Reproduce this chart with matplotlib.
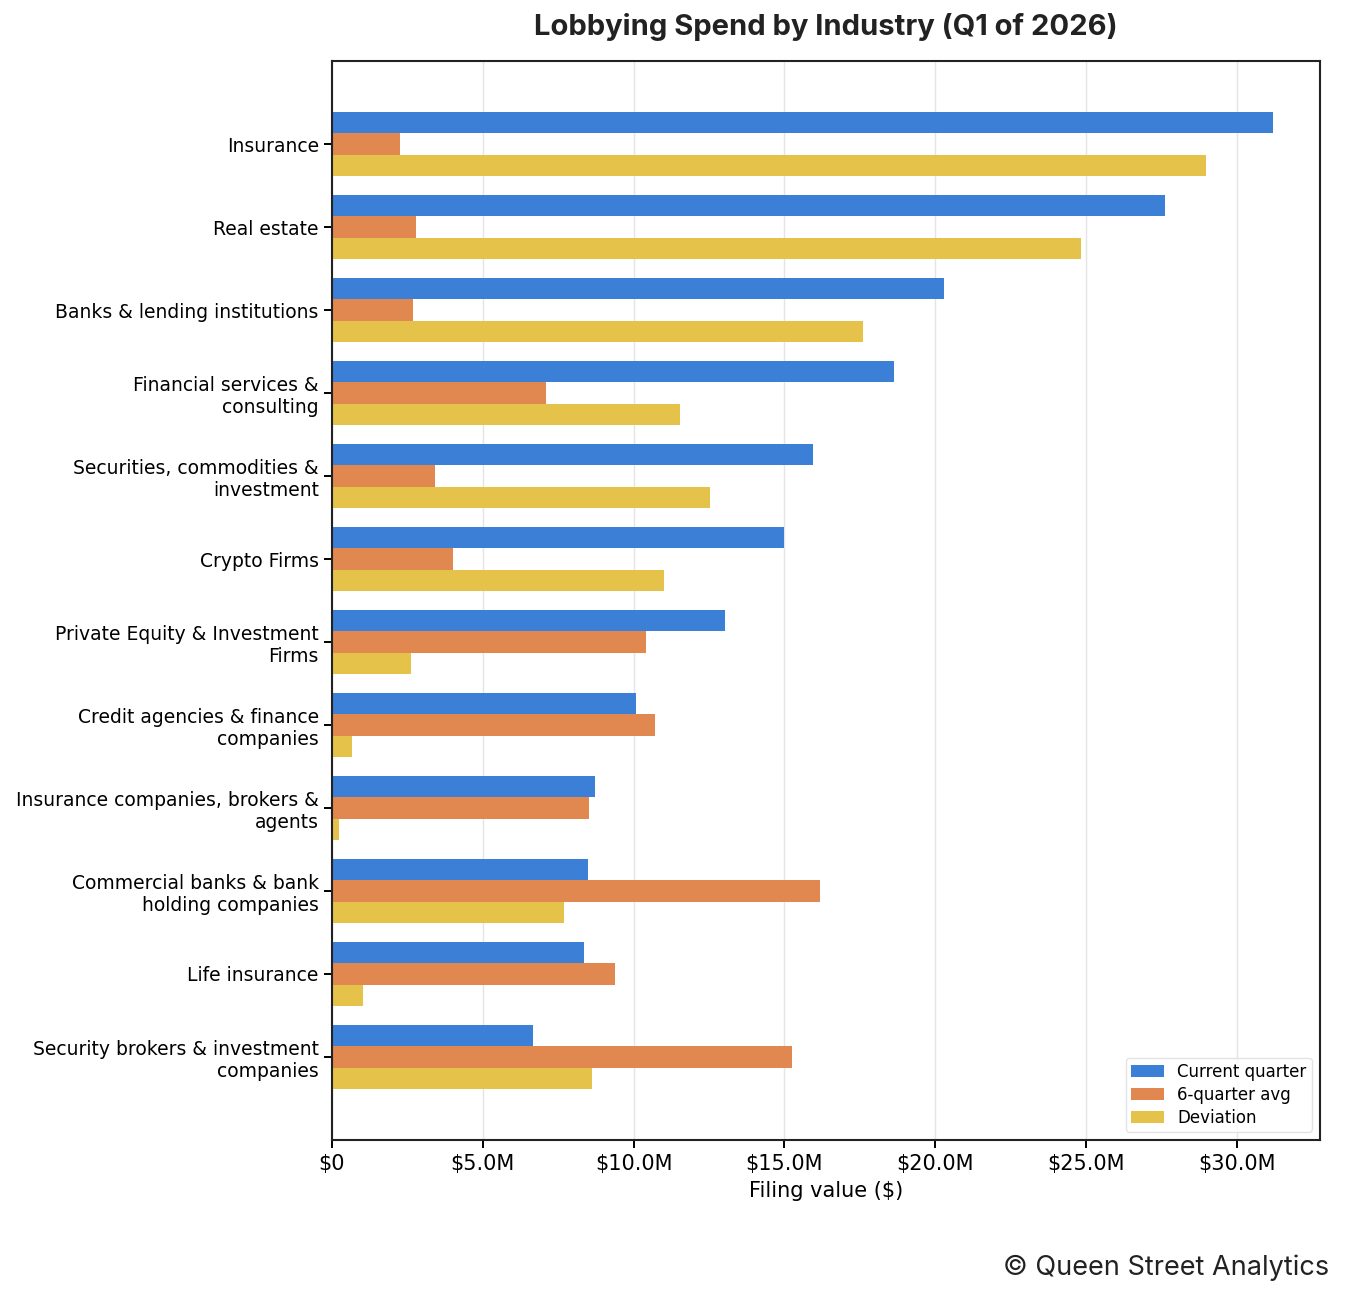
import textwrap
import numpy as np
import matplotlib
matplotlib.use("Agg")
import matplotlib.pyplot as plt
from matplotlib.ticker import FuncFormatter

plt.rcParams["font.family"] = "DejaVu Sans"

industries = [
    "Insurance",
    "Real estate",
    "Banks & lending institutions",
    "Financial services & consulting",
    "Securities, commodities & investment",
    "Crypto Firms",
    "Private Equity & Investment Firms",
    "Credit agencies & finance companies",
    "Insurance companies, brokers & agents",
    "Commercial banks & bank holding companies",
    "Life insurance",
    "Security brokers & investment companies",
]
# values in $M
current = [31.19, 27.61, 20.29, 18.63, 15.94, 14.98, 13.03, 10.08, 8.72, 8.49, 8.35, 6.66]
avg6 = [2.25, 2.78, 2.68, 7.09, 3.41, 4.01, 10.41, 10.71, 8.52, 16.17, 9.38, 15.25]
deviation = [28.97, 24.83, 17.60, 11.53, 12.53, 11.00, 2.62, 0.66, 0.23, 7.69, 1.03, 8.62]

series_names = ["Current quarter", "6-quarter avg", "Deviation"]
colors = ["#3c7fd6", "#e0884f", "#e5c34a"]

fig = plt.figure(figsize=(13.45, 12.96), dpi=100)
ax = fig.add_axes([0.2468, 0.1204, 0.7346, 0.8325])

y = np.arange(len(industries))
h = 0.26
for i, (vals, name, c) in enumerate(zip([current, avg6, deviation], series_names, colors)):
    ax.barh(y + (i - 1) * h, np.array(vals) * 1e6, height=h, color=c, label=name, zorder=2)

ax.set_yticks(y)
ax.set_yticklabels([textwrap.fill(s, 30) for s in industries], fontsize=13.5)
ax.set_ylim(len(industries), -1)
ax.set_xlim(0, max(current) * 1e6 * 1.05)
ax.xaxis.set_major_formatter(FuncFormatter(lambda v, p: "$0" if v == 0 else "${:.1f}M".format(v / 1e6)))
ax.tick_params(axis="x", labelsize=15, length=6, width=1.4, pad=4)
ax.tick_params(axis="y", length=6, width=1.4)
ax.grid(axis="x", color="#e5e5e5", linewidth=1, zorder=0)
ax.set_axisbelow(True)
for sp in ax.spines.values():
    sp.set_color("#222222")
    sp.set_linewidth(1.5)
ax.set_xlabel("Filing value ($)", fontsize=15, labelpad=5)

ax.set_title("Lobbying Spend by Industry (Q1 of 2026)", fontsize=21, fontweight="bold",
             family="Inter", color="#222222", pad=19)
ax.legend(loc="lower right", fontsize=12, frameon=True, edgecolor="#dddddd",
          labelspacing=0.3, borderpad=0.3)

fig.text(0.988, 0.0115, "\u00a9 Queen Street Analytics", ha="right", va="bottom",
         fontsize=19.5, family="Inter", color="#222222")

fig.savefig("out.png", dpi=100)
